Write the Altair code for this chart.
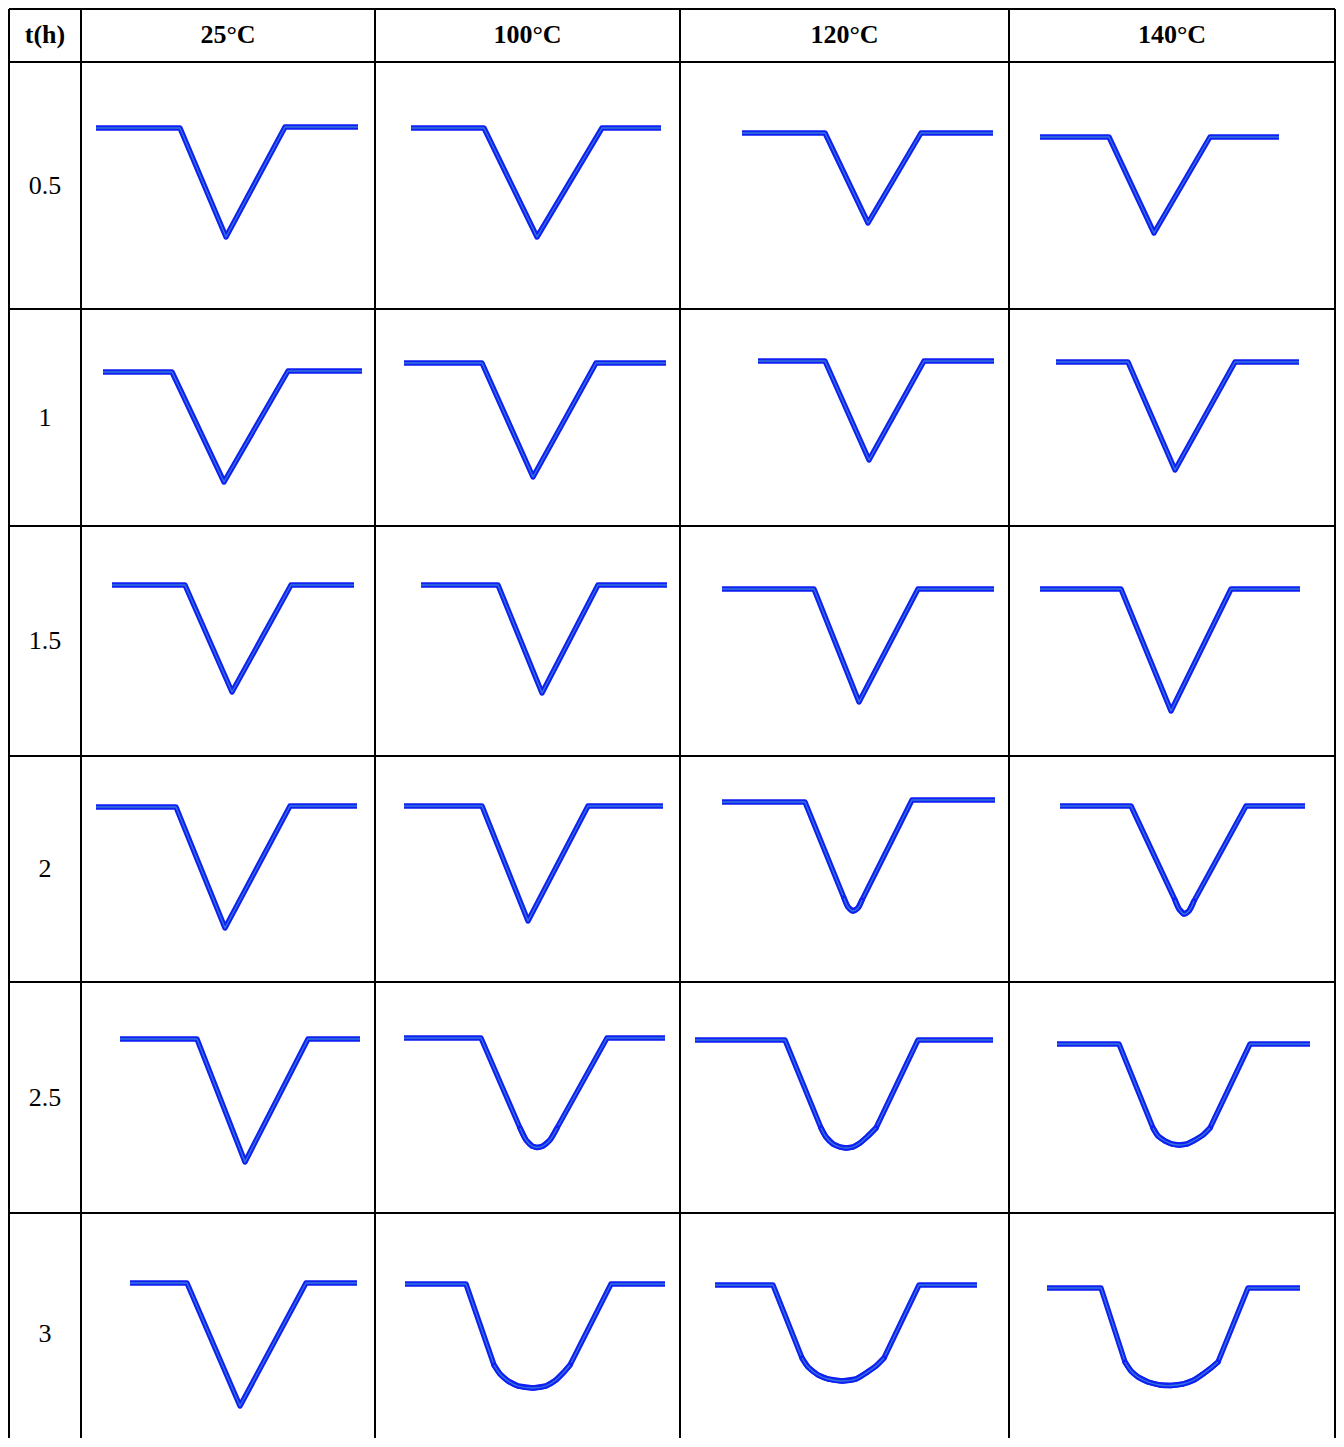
import altair as alt
import pandas as pd

# ---- table structure (reference pixel grid) ----
temps = ["25°C", "100°C", "120°C", "140°C"]
times = ["0.5", "1", "1.5", "2", "2.5", "3"]
col_edges = [9, 81, 375, 680, 1009, 1335]
row_edges = [9, 62, 309, 526, 756, 982, 1213, 1455]

# ---- profile traces, one list per time (x, y) ----
profile_25C = [
    [(96, 128), (180, 128), (226, 237), (285, 127), (358, 127)],
    [(103, 372), (172, 372), (224, 482), (288, 371), (362, 371)],
    [(112, 585), (185, 585), (232, 692), (291, 585), (354, 585)],
    [(96, 807), (176, 807), (225, 928), (290, 806), (357, 806)],
    [(120, 1039), (197, 1039), (245, 1162), (308, 1039), (360, 1039)],
    [(130, 1283), (187, 1283), (240, 1406), (306, 1283), (357, 1283)],
]
profile_100C = [
    [(411, 128), (484, 128), (537, 237), (602, 128), (661, 128)],
    [(404, 363), (482, 363), (533, 477), (596, 363), (666, 363)],
    [(421, 585), (498, 585), (542, 693), (598, 585), (667, 585)],
    [(404, 806), (482, 806), (528, 921), (588, 806), (663, 806)],
    [(404, 1038), (481, 1038), (520, 1128), (526, 1140), (532, 1146), (537, 1147.5),
     (543, 1146), (550, 1140), (557, 1128), (607, 1038), (665, 1038)],
    [(405, 1284), (466, 1284), (494, 1365), (500, 1374), (508, 1381), (518, 1386),
     (533, 1388), (546, 1386), (556, 1380), (564, 1372), (570, 1365), (611, 1284), (665, 1284)],
]
profile_120C = [
    [(742, 133), (825, 133), (868, 223), (921, 133), (993, 133)],
    [(758, 361), (825, 361), (869, 460), (924, 361), (994, 361)],
    [(722, 589), (814, 589), (859, 702), (918, 589), (994, 589)],
    [(722, 802), (805, 802), (844, 898), (848, 907), (853, 911), (858, 908), (862, 900),
     (912, 800), (995, 800)],
    [(695, 1040), (785, 1040), (821, 1128), (826, 1137), (833, 1144), (840, 1147),
     (846, 1148), (853, 1147), (860, 1143), (867, 1137), (876, 1128), (918, 1040), (993, 1040)],
    [(715, 1285), (773, 1285), (802, 1358), (808, 1367), (818, 1375), (828, 1379),
     (842, 1381), (856, 1379), (866, 1373), (876, 1366), (884, 1358), (919, 1285), (977, 1285)],
]
profile_140C = [
    [(1040, 137), (1109, 137), (1154, 233), (1210, 137), (1279, 137)],
    [(1056, 362), (1128, 362), (1175, 470), (1235, 362), (1299, 362)],
    [(1040, 589), (1121, 589), (1171, 711), (1231, 589), (1300, 589)],
    [(1060, 806), (1131, 806), (1175, 900), (1179, 909), (1184, 914), (1189, 911),
     (1194, 901), (1246, 806), (1305, 806)],
    [(1057, 1044), (1119, 1044), (1153, 1128), (1158, 1136), (1165, 1141), (1172, 1144),
     (1179, 1145), (1187, 1144), (1195, 1140), (1203, 1135), (1210, 1128), (1250, 1044), (1310, 1044)],
    [(1047, 1288), (1101, 1288), (1125, 1362), (1131, 1371), (1138, 1377), (1148, 1382),
     (1160, 1385), (1171, 1385.5), (1183, 1384), (1194, 1380), (1203, 1374), (1211, 1368),
     (1218, 1362), (1248, 1288), (1300, 1288)],
]
profiles = [profile_25C, profile_100C, profile_120C, profile_140C]

# ---- build tables ----
rows = []
arc_rows = []
for ti, temp in enumerate(temps):
    for ri, t in enumerate(times):
        pts = profiles[ti][ri]
        n = len(pts)
        for k, (px, py) in enumerate(pts):
            rec = {"pid": f"{temp}-{t}", "k": k, "x": px, "y": py}
            rows.append(rec)
            # rounded bottoms (more than a single tip point) get a smooth overlay
            if n > 5 and 2 <= k <= n - 3:
                arc_rows.append(rec)
df_lines = pd.DataFrame(rows)
df_arcs = pd.DataFrame(arc_rows)

rules = []
for e in row_edges[:-1]:
    rules.append({"x": col_edges[0], "x2": col_edges[-1], "y": e, "y2": e})
for e in col_edges:
    rules.append({"x": e, "x2": e, "y": row_edges[0], "y2": row_edges[-1]})
df_rules = pd.DataFrame(rules)

hdr = [{"x": (col_edges[0] + col_edges[1]) / 2, "y": 35, "text": "t(h)"}]
for i, temp in enumerate(temps):
    hdr.append({"x": (col_edges[i + 1] + col_edges[i + 2]) / 2, "y": 35, "text": temp})
df_hdr = pd.DataFrame(hdr)

lab = []
for i, t in enumerate(times):
    lab.append({"x": (col_edges[0] + col_edges[1]) / 2,
                "y": (row_edges[i + 1] + row_edges[i + 2]) / 2, "text": t})
df_lab = pd.DataFrame(lab)

# page: 8px margin -> 1328 wide; chart starts at page (8, 8)
X0, Y0 = 8, 8
W, H = 1328, 1430
xs = alt.Scale(domain=[X0, X0 + W], zero=False, nice=False)
ys = alt.Scale(domain=[Y0, Y0 + H], zero=False, nice=False, reverse=True)

enc = dict(
    x=alt.X("x:Q", scale=xs, axis=None),
    y=alt.Y("y:Q", scale=ys, axis=None),
    detail="pid:N",
    order="k:Q",
)
BLUE, CORE = "#1020f2", "#3a86d8"
line_base = alt.Chart(df_lines).encode(**enc)
arc_base = alt.Chart(df_arcs).encode(**enc)
outer = line_base.mark_line(color=BLUE, strokeWidth=5.4, strokeJoin="round", strokeCap="butt", clip=True)
inner = line_base.mark_line(color=CORE, strokeWidth=1.3, strokeJoin="round", strokeCap="butt", opacity=0.85, clip=True)
outer_arc = arc_base.mark_line(color=BLUE, strokeWidth=5.4, strokeJoin="round", strokeCap="round",
                               interpolate="catmull-rom", clip=True)
inner_arc = arc_base.mark_line(color=CORE, strokeWidth=1.3, strokeJoin="round", strokeCap="butt",
                               interpolate="catmull-rom", opacity=0.85, clip=True)

grid = alt.Chart(df_rules).mark_rule(color="black", strokeWidth=2, clip=True).encode(
    x=alt.X("x:Q", scale=xs, axis=None), x2="x2:Q",
    y=alt.Y("y:Q", scale=ys, axis=None), y2="y2:Q",
)

header = alt.Chart(df_hdr).mark_text(
    font="Liberation Serif", fontSize=26, fontWeight="bold", align="center", baseline="middle"
).encode(
    x=alt.X("x:Q", scale=xs, axis=None), y=alt.Y("y:Q", scale=ys, axis=None), text="text:N"
)
labels = alt.Chart(df_lab).mark_text(
    font="Liberation Serif", fontSize=26, align="center", baseline="middle"
).encode(
    x=alt.X("x:Q", scale=xs, axis=None), y=alt.Y("y:Q", scale=ys, axis=None), text="text:N"
)

chart = alt.layer(grid, outer, inner, outer_arc, inner_arc, header, labels).properties(
    width=W, height=H,
    autosize=alt.AutoSizeParams(type="none"),
    padding=0,
    background="white",
).configure_view(stroke=None)

chart.save("out.html", embed_options={"renderer": "svg", "actions": False})
